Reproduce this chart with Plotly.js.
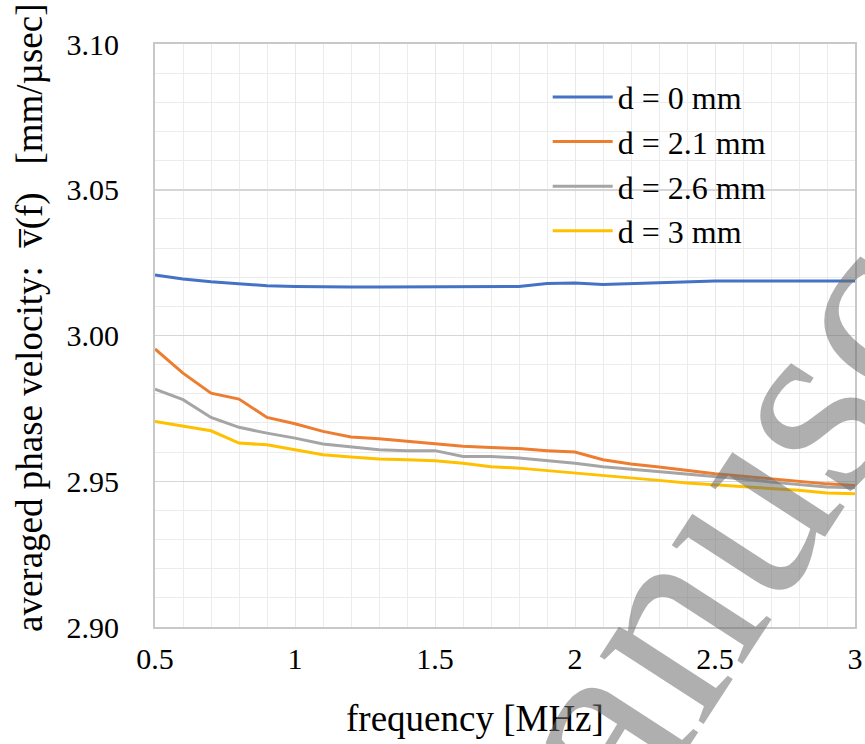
<!DOCTYPE html>
<html>
<head>
<meta charset="utf-8">
<script src="https://cdn.plot.ly/plotly-3.0.1.min.js"></script>
<style>html,body{margin:0;padding:0;background:#fff;}#chart{width:865px;height:744px;}</style>
</head>
<body>
<div id="chart"></div>
<script>
const frequency = [0.5,0.6,0.7,0.8,0.9,1.0,1.1,1.2,1.3,1.4,1.5,1.6,1.7,1.8,1.9,2.0,2.1,2.2,2.3,2.4,2.5,2.6,2.7,2.8,2.9,3.0];
const d0mm  = [3.0208,3.0194,3.0184,3.0177,3.0171,3.0168,3.0166,3.0166,3.0166,3.0166,3.0166,3.0166,3.0166,3.0168,3.0178,3.0180,3.0175,3.0178,3.0182,3.0185,3.0187,3.0187,3.0187,3.0187,3.0187,3.0187];
const d21mm = [2.9954,2.9871,2.9802,2.9782,2.9719,2.9697,2.9671,2.9652,2.9646,2.9637,2.9629,2.9620,2.9616,2.9612,2.9605,2.9600,2.9574,2.9559,2.9549,2.9537,2.9526,2.9517,2.9508,2.9500,2.9491,2.9485];
const d26mm = [2.9816,2.9780,2.9719,2.9685,2.9665,2.9648,2.9628,2.9617,2.9608,2.9605,2.9605,2.9585,2.9585,2.9580,2.9571,2.9562,2.9550,2.9542,2.9534,2.9525,2.9517,2.9508,2.9497,2.9488,2.9480,2.9478];
const d3mm  = [2.9705,2.9688,2.9673,2.9631,2.9625,2.9608,2.9591,2.9583,2.9576,2.9574,2.9570,2.9562,2.9550,2.9545,2.9537,2.9528,2.9520,2.9511,2.9503,2.9494,2.9488,2.9482,2.9477,2.9469,2.9460,2.9457];
const seriesNames = ['d = 0 mm','d = 2.1 mm','d = 2.6 mm','d = 3 mm'];
const seriesColors = ['#4472C4','#ED7D31','#A5A5A5','#FFC000'];
const xTickVals = [0.5,1,1.5,2,2.5,3];
const xTickText = ['0.5','1','1.5','2','2.5','3'];
const yTickVals = [2.90,2.95,3.00,3.05,3.10];
const yTickText = ['2.90','2.95','3.00','3.05','3.10'];

const serif = 'Liberation Serif';
const allSeries = [d0mm,d21mm,d26mm,d3mm];
const traces = allSeries.map((ys,i)=>({
  x: frequency, y: ys, type:'scatter', mode:'lines', name: seriesNames[i],
  line:{color:seriesColors[i], width:3}
}));

const layout = {
  width:865, height:744,
  margin:{l:155, r:10, t:44, b:117},
  paper_bgcolor:'#fff', plot_bgcolor:'#fff',
  font:{family:serif, color:'#000'},
  showlegend:true,
  legend:{x:0.561, y:0.956, xanchor:'left', yanchor:'top', bgcolor:'rgba(0,0,0,0)',
    font:{size:32, family:serif, color:'#000'}, itemwidth:60, tracegroupgap:0},
  xaxis:{range:[0.5,3], tickvals:xTickVals, ticktext:xTickText, showgrid:true,
    gridcolor:'#e8e8e8', gridwidth:1, zeroline:false,
    showline:true, linecolor:'#c8c8c8', linewidth:2, mirror:true,
    ticks:'', ticklabelstandoff:4, tickfont:{size:30, family:serif, color:'#000'},
    minor:{dtick:0.1, showgrid:true, gridcolor:'#ececec', gridwidth:1}},
  yaxis:{range:[2.90,3.10], tickvals:yTickVals, ticktext:yTickText, showgrid:true,
    gridcolor:'#d6d6d6', gridwidth:1.5, zeroline:false,
    showline:true, linecolor:'#c8c8c8', linewidth:2, mirror:true,
    ticks:'', ticklabelstandoff:28, tickfont:{size:30, family:serif, color:'#000'},
    minor:{dtick:0.01, showgrid:true, gridcolor:'#ececec', gridwidth:1}},
  annotations:[
    {text:'averaged phase velocity:\u00A0\u00A0v\u0305(f)\u00A0\u00A0\u00A0[mm/\u00B5sec]', xref:'paper', yref:'paper',
     x:(30-155)/700, y:(627-318)/583, xanchor:'center', yanchor:'middle', textangle:-90, showarrow:false,
     font:{size:37, family:serif, color:'#000'}},
    {text:'frequency [MHz]', xref:'paper', yref:'paper', x:(475-155)/700, y:-(718-627)/583,
     xanchor:'center', yanchor:'middle', showarrow:false, font:{size:37, family:serif, color:'#000'}},
    {text:'anusc', xref:'paper', yref:'paper', x:(725-155)/700, y:(627-522)/583,
     xanchor:'center', yanchor:'middle',
     textangle:-57, showarrow:false, font:{size:270, family:serif, color:'rgba(110,110,110,0.55)'}}
  ]
};
Plotly.newPlot('chart', traces, layout, {staticPlot:true, displayModeBar:false});
</script>
</body>
</html>
